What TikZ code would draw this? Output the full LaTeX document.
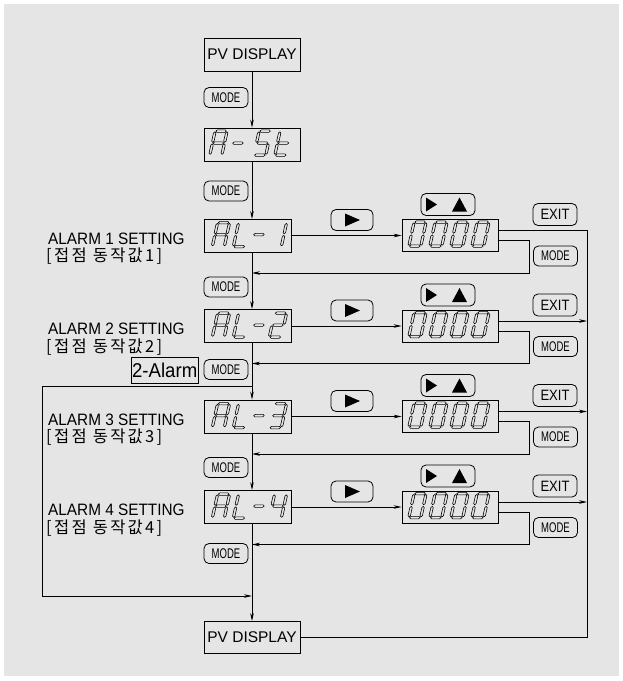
\documentclass[tikz,border=0pt]{standalone}
\usepackage{fontspec}
\setmainfont{Liberation Sans}
\newfontfamily\labfont{Liberation Sans}[FakeStretch=0.93]
\newfontfamily\keyfont{Liberation Sans}[FakeStretch=0.68]
\newfontfamily\exitfont{Liberation Sans}[FakeStretch=0.87]
\newfontfamily\korfont{Noto Sans CJK KR}[LetterSpace=14]
\usetikzlibrary{arrows.meta}

\definecolor{panel}{RGB}{229,229,229}

% hollow segments of a slanted 7-segment digit (12 wide, 24 high, y down)
\newcommand\hseg[3]{\draw[sg] (#1,#3) -- (#1+1.2,#3-1.2) -- (#2-1.2,#3-1.2) -- (#2,#3) -- (#2-1.2,#3+1.2) -- (#1+1.2,#3+1.2) -- cycle;}
\newcommand\vseg[3]{\draw[sg] (#1,#2) -- (#1+1.2,#2+1.2) -- (#1+1.2,#3-1.2) -- (#1,#3) -- (#1-1.2,#3-1.2) -- (#1-1.2,#2+1.2) -- cycle;}
\newcommand\sgA{\hseg{0.8}{11.2}{0}}
\newcommand\sgB{\vseg{12}{0.8}{11.2}}
\newcommand\sgC{\vseg{12}{12.8}{23.2}}
\newcommand\sgD{\hseg{0.8}{11.2}{24}}
\newcommand\sgE{\vseg{0}{12.8}{23.2}}
\newcommand\sgF{\vseg{0}{0.8}{11.2}}
\newcommand\sgG{\hseg{0.8}{11.2}{12}}
\newcommand\digit[4]{\begin{scope}[shift={(#1)},shift={(#2,#3)},xslant=0.22]
  \foreach \s in {#4} {\csname sg\s\endcsname}\end{scope}}
\newcommand\alarm[2]{\digit{#1.north west}{14}{4}{A,B,C,E,F,G}\digit{#1.north west}{35}{4}{D,E,F}
  \digit{#1.north west}{52}{4}{G}\digit{#1.north west}{71}{4}{#2}}
\newcommand\zeros[1]{\digit{#1.north west}{12.5}{3}{A,B,C,D,E,F}\digit{#1.north west}{33.5}{3}{A,B,C,D,E,F}
  \digit{#1.north west}{54.5}{3}{A,B,C,D,E,F}\digit{#1.north west}{75.5}{3}{A,B,C,D,E,F}}

\begin{document}
\begin{tikzpicture}[x=1pt,y=-1pt,>={Stealth[length=8pt,width=3.6pt]},
  disp/.style={draw,line width=0.8pt,minimum width=96pt,minimum height=33pt,inner sep=0pt},
  key/.style={draw,rounded corners=5pt,line width=0.8pt,minimum width=44pt,minimum height=20pt,
    inner sep=0pt,font=\keyfont\fontsize{14}{14}\selectfont},
  exitkey/.style={key,minimum height=22pt,font=\exitfont\fontsize{15}{15}\selectfont},
  lab/.style={anchor=west,inner sep=0pt,font=\labfont\fontsize{16.5}{16.5}\selectfont},
  kor/.style={anchor=west,inner sep=0pt,font=\korfont\fontsize{16.5}{16.5}\selectfont},
  link/.style={line width=0.8pt},
  sg/.style={line width=0.6pt}]
  \useasboundingbox (0,0) rectangle (623,681);
  \fill[white] (0,0) rectangle (623,681);
  \fill[panel] (4,4) rectangle (619,676);
  \coordinate (col) at (252,0);
  \coordinate (rline) at (587,0);

  % main column
  \node[disp,font=\fontsize{15.5}{15.5}\selectfont] (pv1) at (252,54.5) {PV DISPLAY};
  \node[key] (m0) at (226,97.5) {MODE};
  \node[disp] (ast) at (252,144.5) {};
  \digit{ast.north west}{11.5}{3.5}{A,B,C,E,F,G}
  \digit{ast.north west}{31}{3.5}{G}
  \digit{ast.north west}{55.5}{3.5}{A,F,G,C,D}
  \digit{ast.north west}{76.5}{3.5}{D,E,F,G}
  \node[key] (m1) at (226,191) {MODE};
  \draw[link,->] (pv1) -- (ast);
  \draw[link,->] (ast) -- (ast |- 0,219);

  % alarm 1
  \node[lab] (t1) at (48,238.5) {ALARM 1 SETTING};
  \node[kor] (k1) at (46,256.5) {[접점 동작값1]};
  \node[disp,minimum width=87pt] (al1) at (247.5,235.5) {};
  \alarm{al1}{B,C}
  \node[key,minimum width=42pt,minimum height=21pt] (go1) at (352,220) {};
  \fill (go1.center) ++(-7,-6.5) -- ++(0,13) -- ++(15,-6.5) -- cycle;
  \node[key,minimum width=54pt,minimum height=22pt] (up1) at (448,204.5) {};
  \fill (up1.center) ++(-22,-7) -- ++(0,14) -- ++(11,-7) -- cycle;
  \fill (up1.center) ++(4,7) -- ++(15,0) -- ++(-7.5,-14) -- cycle;
  \node[disp,minimum height=32pt] (v1) at (450,235.5) {};
  \zeros{v1}
  \node[exitkey] (x1) at (555,214.5) {EXIT};
  \node[key] (mr1) at (555.5,256) {MODE};
  \node[key] (ml1) at (226,287) {MODE};
  \coordinate (e1) at (498,230.5);
  \coordinate (b1) at (529,273);
  \draw[link,->] (al1) -- (v1);
  \draw[link,->] ([yshift=-5pt]v1.east) -| (b1) -- (b1 -| col);

  % alarm 2
  \node[lab] (t2) at (48,329) {ALARM 2 SETTING};
  \node[kor] (k2) at (46,347) {[접점 동작값2]};
  \node[disp,minimum width=87pt] (al2) at (247.5,326) {};
  \alarm{al2}{A,B,G,E,D}
  \node[key,minimum width=42pt,minimum height=21pt] (go2) at (352,310.5) {};
  \fill (go2.center) ++(-7,-6.5) -- ++(0,13) -- ++(15,-6.5) -- cycle;
  \node[key,minimum width=54pt,minimum height=22pt] (up2) at (448,295) {};
  \fill (up2.center) ++(-22,-7) -- ++(0,14) -- ++(11,-7) -- cycle;
  \fill (up2.center) ++(4,7) -- ++(15,0) -- ++(-7.5,-14) -- cycle;
  \node[disp,minimum height=32pt] (v2) at (450,326) {};
  \zeros{v2}
  \node[exitkey] (x2) at (555,305) {EXIT};
  \node[key] (mr2) at (555.5,346.5) {MODE};
  \node[draw,line width=0.8pt,minimum width=66pt,minimum height=26pt,inner sep=1pt,
    font=\labfont\fontsize{20}{20}\selectfont] (two) at (164.7,370.3) {2-Alarm};
  \node[key] (ml2) at (226,369.5) {MODE};
  \coordinate (e2) at (498,321);
  \coordinate (b2) at (529,363.5);
  \draw[link,->] (al2) -- (v2);
  \draw[link,->] ([yshift=-5pt]v2.east) -| (b2) -- (b2 -| col);
  \draw[link,->] (e2) -- (e2 -| rline);

  % alarm 3
  \node[lab] (t3) at (48,419.5) {ALARM 3 SETTING};
  \node[kor] (k3) at (46,437.5) {[접점 동작값3]};
  \node[disp,minimum width=87pt] (al3) at (247.5,416.5) {};
  \alarm{al3}{A,B,G,C,D}
  \node[key,minimum width=42pt,minimum height=21pt] (go3) at (352,401) {};
  \fill (go3.center) ++(-7,-6.5) -- ++(0,13) -- ++(15,-6.5) -- cycle;
  \node[key,minimum width=54pt,minimum height=22pt] (up3) at (448,385.5) {};
  \fill (up3.center) ++(-22,-7) -- ++(0,14) -- ++(11,-7) -- cycle;
  \fill (up3.center) ++(4,7) -- ++(15,0) -- ++(-7.5,-14) -- cycle;
  \node[disp,minimum height=32pt] (v3) at (450,416.5) {};
  \zeros{v3}
  \node[exitkey] (x3) at (555,395.5) {EXIT};
  \node[key] (mr3) at (555.5,437) {MODE};
  \node[key] (ml3) at (226,467.5) {MODE};
  \coordinate (e3) at (498,411.5);
  \coordinate (b3) at (529,454);
  \draw[link,->] (al3) -- (v3);
  \draw[link,->] ([yshift=-5pt]v3.east) -| (b3) -- (b3 -| col);
  \draw[link,->] (e3) -- (e3 -| rline);

  % alarm 4
  \node[lab] (t4) at (48,510) {ALARM 4 SETTING};
  \node[kor] (k4) at (46,528) {[접점 동작값4]};
  \node[disp,minimum width=87pt] (al4) at (247.5,507) {};
  \alarm{al4}{F,G,B,C}
  \node[key,minimum width=42pt,minimum height=21pt] (go4) at (352,491.5) {};
  \fill (go4.center) ++(-7,-6.5) -- ++(0,13) -- ++(15,-6.5) -- cycle;
  \node[key,minimum width=54pt,minimum height=22pt] (up4) at (448,476) {};
  \fill (up4.center) ++(-22,-7) -- ++(0,14) -- ++(11,-7) -- cycle;
  \fill (up4.center) ++(4,7) -- ++(15,0) -- ++(-7.5,-14) -- cycle;
  \node[disp,minimum height=32pt] (v4) at (450,507) {};
  \zeros{v4}
  \node[exitkey] (x4) at (555,486) {EXIT};
  \node[key] (mr4) at (555.5,527.5) {MODE};
  \node[key] (ml4) at (226,553.5) {MODE};
  \coordinate (e4) at (498,502);
  \coordinate (b4) at (529,544.5);
  \draw[link,->] (al4) -- (v4);
  \draw[link,->] ([yshift=-5pt]v4.east) -| (b4) -- (b4 -| col);
  \draw[link,->] (e4) -- (e4 -| rline);

  % end
  \node[disp,minimum height=32pt,font=\fontsize{15.5}{15.5}\selectfont] (pv2) at (252,637.5) {PV DISPLAY};
  \draw[link,->] (col |- al1.south) -- (col |- al2.north);
  \draw[link,->] (col |- al2.south) -- (col |- al3.north);
  \draw[link,->] (col |- al3.south) -- (col |- al4.north);
  \draw[link,->] (col |- al4.south) -- (pv2);
  \draw[link] (e1) -| (rline |- pv2) -- (pv2);
  \coordinate (lt) at (42,386);
  \coordinate (lb) at (42,596);
  \draw[link,->] (col |- lt) -- (lt) -- (lb) -- (col |- lb);
\end{tikzpicture}
\end{document}
